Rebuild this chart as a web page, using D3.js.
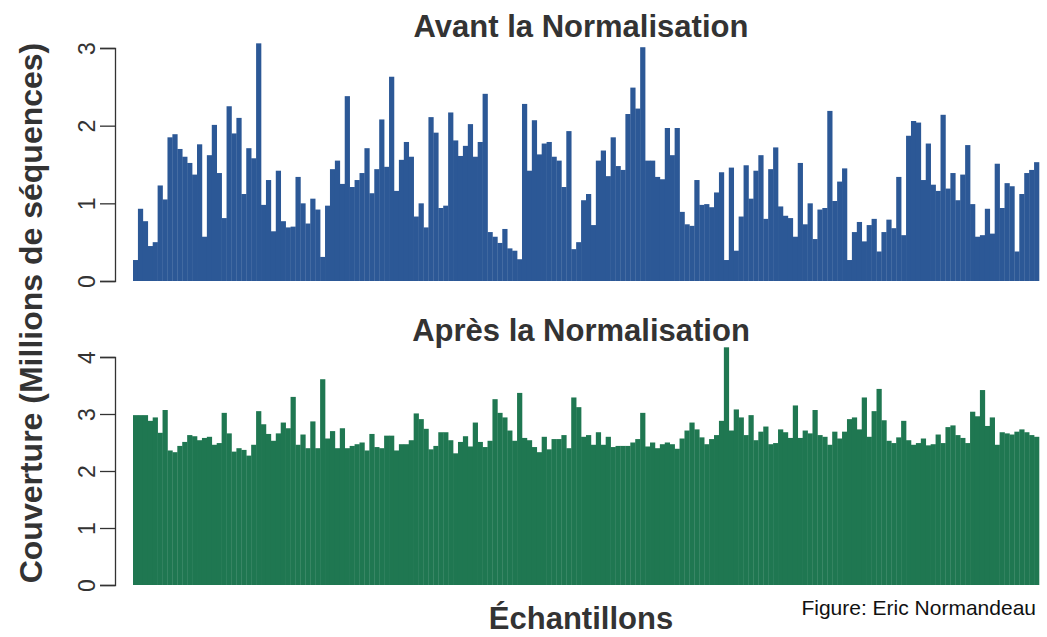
<!DOCTYPE html>
<html>
<head>
	<meta charset="utf-8">
	<title>Normalisation</title>
	<script src="https://d3js.org/d3.v7.min.js"></script>
	<style>
		body { margin: 0; background: #fff; }
		text { font-family: "Liberation Sans", Arial, sans-serif; fill: #333; }
	</style>
</head>
<body>
	<script>

		// coverage per sample, millions of reads
		var avant = [
			0.27,0.93,0.77,0.45,0.50,1.23,1.05,1.85,1.89,1.70,1.60,1.52,1.37,1.76,0.57,1.62,2.01,1.39,0.81,2.25,
			1.90,2.10,1.12,1.71,1.58,3.06,0.98,1.30,0.64,1.42,0.77,0.69,0.70,1.34,1.00,0.74,1.06,0.92,0.31,0.97,
			1.44,1.55,1.25,2.38,1.21,1.30,1.39,1.71,1.13,1.44,2.08,1.47,2.63,1.16,1.56,1.79,1.60,0.83,1.00,0.69,
			2.11,1.91,0.94,0.97,2.17,1.81,1.61,1.74,2.02,1.60,1.79,2.41,0.63,0.57,0.49,0.67,0.42,0.39,0.28,2.28,
			1.42,2.07,1.63,1.77,1.79,1.60,1.55,1.21,1.93,0.41,0.50,1.04,1.12,0.72,1.55,1.68,1.35,1.85,1.48,1.43,
			2.15,2.49,2.22,3.01,1.55,1.55,1.34,1.31,1.97,1.62,1.97,0.89,0.73,0.71,1.30,0.98,0.99,0.95,1.14,1.40,
			0.27,1.46,0.39,0.83,1.49,1.06,1.42,1.62,0.80,1.44,1.72,0.96,0.84,0.81,0.57,1.52,0.73,1.00,0.54,0.92,
			0.94,2.19,1.03,1.28,1.45,0.27,0.63,0.76,0.51,0.72,0.80,0.38,0.63,0.79,0.68,1.34,0.59,1.87,2.06,2.04,
			1.30,1.77,1.24,1.16,2.14,1.19,1.39,1.04,1.37,1.75,0.99,0.57,0.59,0.93,0.61,1.51,0.94,1.26,1.22,0.38,
			1.12,1.39,1.43,1.53
		];

		var apres = [
			2.98,2.98,2.98,2.88,2.94,2.67,3.07,2.36,2.33,2.44,2.51,2.63,2.61,2.54,2.58,2.60,2.46,2.49,3.02,2.66,
			2.34,2.40,2.37,2.27,2.46,3.05,2.82,2.65,2.53,2.66,2.85,2.75,3.30,2.46,2.64,2.40,2.87,2.40,3.61,2.57,
			2.70,2.40,2.75,2.40,2.44,2.47,2.50,2.36,2.65,2.42,2.40,2.62,2.62,2.36,2.47,2.47,2.54,3.01,2.91,2.74,
			2.38,2.44,2.68,2.68,2.54,2.31,2.51,2.61,2.43,2.85,2.51,2.42,2.53,3.26,3.02,2.94,2.71,2.53,3.37,2.58,
			2.54,2.42,2.33,2.60,2.38,2.56,2.56,2.63,2.40,3.29,3.12,2.60,2.63,2.46,2.68,2.46,2.60,2.42,2.44,2.44,
			2.44,2.50,2.56,3.02,2.43,2.50,2.40,2.47,2.50,2.47,2.39,2.57,2.71,2.85,2.73,2.59,2.47,2.56,2.63,2.88,
			4.17,2.71,3.08,2.94,2.63,2.98,2.54,2.69,2.78,2.47,2.49,2.73,2.68,2.58,3.15,2.58,2.71,2.66,3.07,2.63,
			2.60,2.46,2.69,2.57,2.69,2.91,2.94,2.73,3.29,2.60,3.05,3.44,2.89,2.53,2.49,2.59,2.88,2.54,2.46,2.49,
			2.57,2.45,2.47,2.64,2.49,2.77,2.80,2.63,2.58,2.49,3.04,2.96,3.42,2.79,2.94,2.46,2.68,2.66,2.64,2.69,
			2.73,2.68,2.63,2.60
		];

		var ticksAvant = [0, 1, 2, 3];
		var ticksApres = [0, 1, 2, 3, 4];

		var width = 1047;
		var height = 637;

		var svg = d3.select("body").append("svg")
			.attr("width", width)
			.attr("height", height);

		var x = d3.scaleBand()
			.domain(d3.range(avant.length))
			.range([133, 1039])
			.padding(0);

		// one panel: bars + R style axis on the left
		function panel(data, ticks, top, bottom, color, title, titleY) {
			var y = d3.scaleLinear()
				.domain([0, d3.max(ticks)])
				.range([bottom, top]);

			svg.append("g").selectAll("rect")
				.data(data)
				.enter().append("rect")
				.attr("x", function(d, i) { return x(i); })
				.attr("y", function(d) { return y(d); })
				.attr("width", x.bandwidth() + 0.3)
				.attr("height", function(d) { return bottom - y(d); })
				.attr("fill", color);

			var axis = svg.append("g")
				.attr("transform", "translate(115,0)")
				.call(d3.axisLeft(y).tickValues(ticks).tickSize(15).tickPadding(0).tickFormat(d3.format("d")));

			axis.select(".domain").attr("stroke", "#333").attr("stroke-width", 1.3);
			axis.selectAll(".tick line").attr("stroke", "#333").attr("stroke-width", 1.3);
			axis.selectAll(".tick text").remove();

			axis.selectAll(".tick").append("text")
				.attr("transform", "translate(-20,0) rotate(-90)")
				.attr("text-anchor", "middle")
				.style("font-size", "23px")
				.attr("fill", "#333")
				.text(function(d) { return d; });

			svg.append("text")
				.attr("x", 581)
				.attr("y", titleY)
				.attr("text-anchor", "middle")
				.style("font-size", "31px")
				.style("font-weight", "bold")
				.text(title);
		}

		panel(avant, ticksAvant, 48, 281, "#2c5896", "Avant la Normalisation", 37);
		panel(apres, ticksApres, 357, 585, "#1f7751", "Après la Normalisation", 341);

		svg.append("text")
			.attr("transform", "translate(42,313) rotate(-90)")
			.attr("text-anchor", "middle")
			.style("font-size", "32px")
			.style("font-weight", "bold")
			.text("Couverture (Millions de séquences)");

		svg.append("text")
			.attr("x", 581)
			.attr("y", 629)
			.attr("text-anchor", "middle")
			.style("font-size", "31px")
			.style("font-weight", "bold")
			.text("Échantillons");

		svg.append("text")
			.attr("x", 1036)
			.attr("y", 615)
			.attr("text-anchor", "end")
			.style("font-size", "21px")
			.style("fill", "#111")
			.text("Figure: Eric Normandeau");

	</script>
</body>
</html>
